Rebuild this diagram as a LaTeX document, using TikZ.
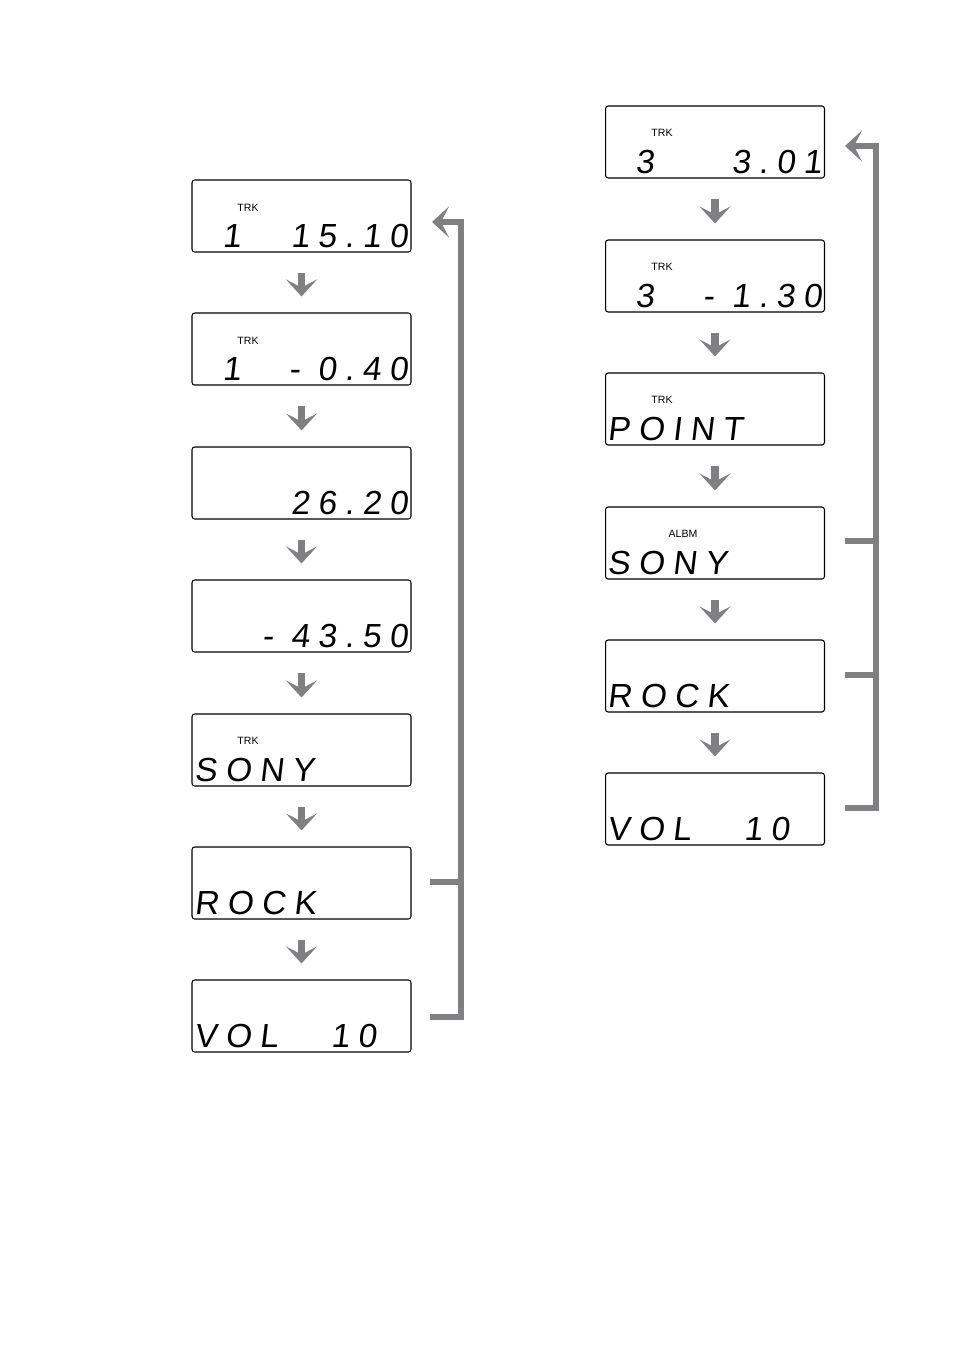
\documentclass[tikz,border=0pt]{standalone}
\usepackage{fontspec}
\setsansfont{Liberation Sans}
\newfontfamily\lcdfont[LetterSpace=25]{Liberation Sans}
\usetikzlibrary{arrows.meta,positioning}
\definecolor{arrowgray}{RGB}{128,128,130}
\begin{document}
\begin{tikzpicture}[x=0.02cm,y=-0.02cm]
	\tikzstyle{lcd}=[draw=black,line width=0.6pt,rounded corners=1.5pt,minimum width=4.38cm,minimum height=1.44cm,inner sep=0pt]
	\tikzstyle{seg}=[font=\lcdfont\fontsize{19}{19}\selectfont,xslant=0.12,inner sep=0pt]
	\tikzstyle{tag}=[font=\sffamily\fontsize{6}{6}\selectfont,inner sep=0pt]
	\tikzstyle{step arrow}=[arrowgray,line width=4.2pt,-{Stealth[inset=0.16cm,length=0.34cm,width=0.62cm]}]
	\tikzstyle{loop line}=[arrowgray,line width=3.2pt]
	\useasboundingbox (0,0) rectangle (954,1352);
	% left column
	\node [lcd] (l1) at (301.5,216) {};
	\node [lcd] (l2) at (301.5,349) {};
	\node [lcd] (l3) at (301.5,483) {};
	\node [lcd] (l4) at (301.5,616) {};
	\node [lcd] (l5) at (301.5,750) {};
	\node [lcd] (l6) at (301.5,883) {};
	\node [lcd] (l7) at (301.5,1016) {};
	\node [tag] at (248,208) {TRK};
	\node [seg,anchor=south west] at (222,248) {1};
	\node [seg,anchor=south east] at (408,248) {15.10};
	\node [tag] at (248,341) {TRK};
	\node [seg,anchor=south west] at (222,381) {1};
	\node [seg,anchor=south east] at (408,381) {- 0.40};
	\node [seg,anchor=south east] at (408,515) {26.20};
	\node [seg,anchor=south east] at (408,648) {- 43.50};
	\node [tag] at (248,741) {TRK};
	\node [seg,anchor=south west] at (194,782) {SONY};
	\node [seg,anchor=south west] at (194,915) {ROCK};
	\node [seg,anchor=south west] at (194,1048) {VOL\ \ \ 10};
	\foreach \a/\b in {l1/l2,l2/l3,l3/l4,l4/l5,l5/l6,l6/l7}
		\draw [step arrow] ([yshift=-0.4cm]\a.south) -- ([yshift=0.32cm]\b.north);
	% right column
	\node [lcd] (r1) at (715,142) {};
	\node [lcd] (r2) at (715,276) {};
	\node [lcd] (r3) at (715,409) {};
	\node [lcd] (r4) at (715,543) {};
	\node [lcd] (r5) at (715,676) {};
	\node [lcd] (r6) at (715,809) {};
	\node [tag] at (662,133) {TRK};
	\node [seg,anchor=south west] at (635,174) {3};
	\node [seg,anchor=south east] at (822,174) {3.01};
	\node [tag] at (662,267) {TRK};
	\node [seg,anchor=south west] at (635,308) {3};
	\node [seg,anchor=south east] at (822,308) {- 1.30};
	\node [tag] at (662,400) {TRK};
	\node [seg,anchor=south west] at (607,441) {POINT};
	\node [tag] at (683,534) {ALBM};
	\node [seg,anchor=south west] at (607,575) {SONY};
	\node [seg,anchor=south west] at (607,708) {ROCK};
	\node [seg,anchor=south west] at (607,841) {VOL\ \ \ 10};
	\foreach \a/\b in {r1/r2,r2/r3,r3/r4,r4/r5,r5/r6}
		\draw [step arrow] ([yshift=-0.4cm]\a.south) -- ([yshift=0.32cm]\b.north);
	% return loops
	\coordinate (lt) at (461,222);
	\coordinate (lh) at (432,222);
	\draw [loop line] (430,882) -- (461,882);
	\draw [loop line] (430,1017) -- (461,1017) -- (lt);
	\draw [step arrow,line width=3.2pt] ([xshift=1.6pt]lt) -- (lh);
	\coordinate (rt) at (876,146);
	\coordinate (rh) at (845,146);
	\draw [loop line] (845,541) -- (876,541);
	\draw [loop line] (845,675) -- (876,675);
	\draw [loop line] (845,808) -- (876,808) -- (rt);
	\draw [step arrow,line width=3.2pt] ([xshift=1.6pt]rt) -- (rh);
\end{tikzpicture}
\end{document}
